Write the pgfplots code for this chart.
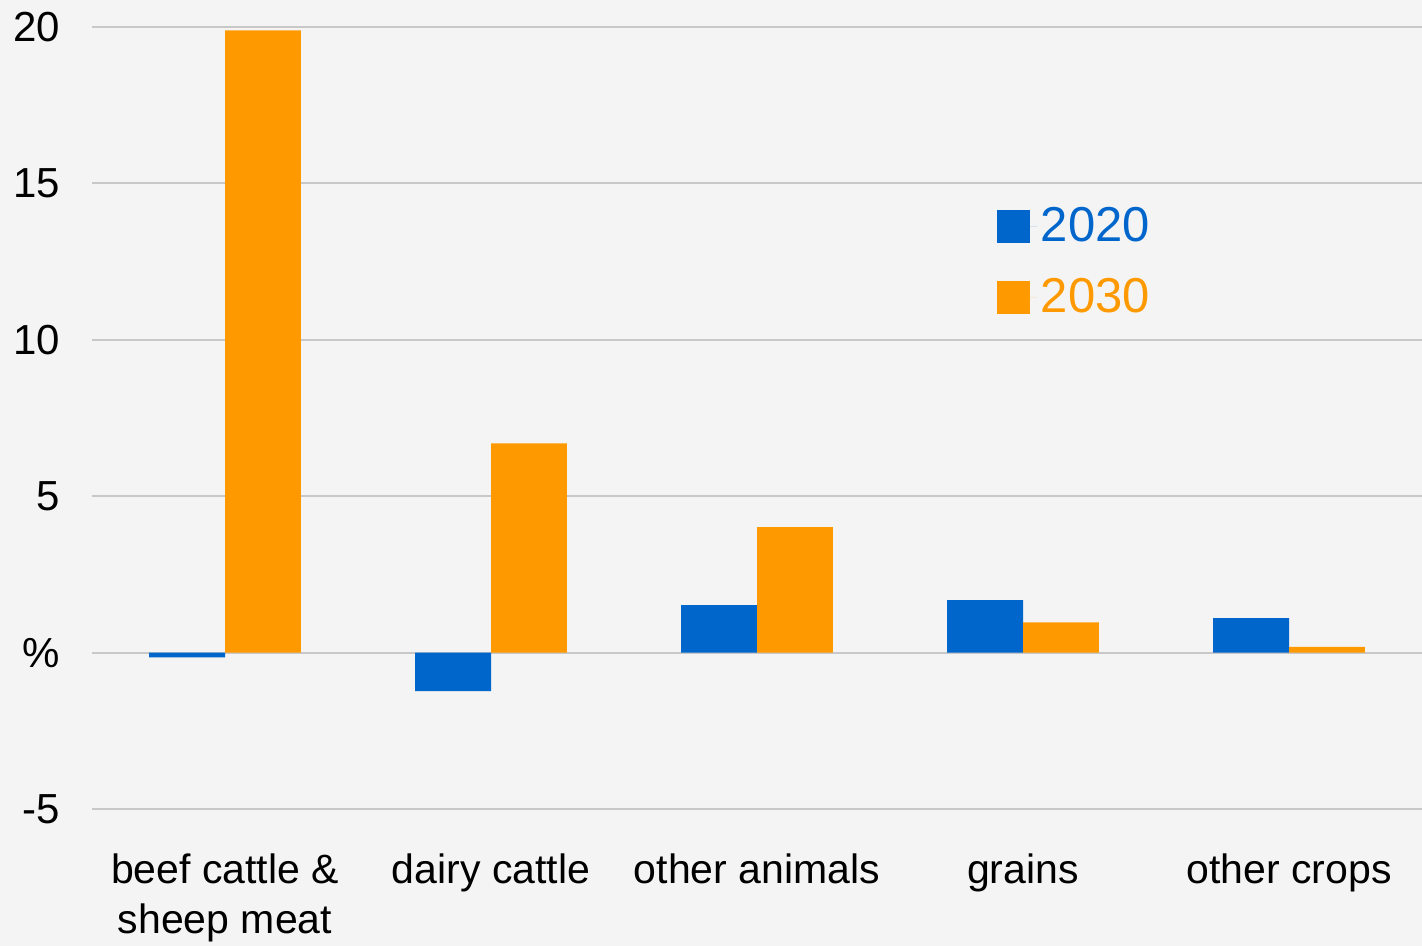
\documentclass[border=0pt]{standalone}
\usepackage{pgfplots}
\pgfplotsset{compat=1.18}
\usepackage{fontspec}
\setmainfont{Liberation Sans}
\definecolor{bg}{HTML}{F4F4F4}
\definecolor{gridgray}{HTML}{C8C8C8}
\definecolor{c2020}{HTML}{0066CC}
\definecolor{c2030}{HTML}{FF9900}

\begin{document}
\begin{tikzpicture}
\fill[bg] (0,0) rectangle (711pt,473pt);
\begin{axis}[
  at={(46pt,68.5pt)}, anchor=south west,
  width=665pt, height=391pt, scale only axis,
  ybar=0pt, bar width=0.285,
  xmin=-0.5, xmax=4.5, ymin=-5, ymax=20,
  xtick={0,1,2,3,4},
  xticklabels={beef cattle \&\\sheep meat, dairy cattle, other animals, grains, other crops},
  ytick={-5,0,5,10,15,20},
  yticklabels={-5,\%,5,10,15,20},
  axis line style={draw=none}, major tick length=0pt,
  ymajorgrids, major grid style={gridgray, line width=1pt},
  yticklabel style={font=\fontsize{21}{25}\selectfont, anchor=east, xshift=-12.5pt},
  xticklabel style={font=\fontsize{20.5}{25}\selectfont, align=center, anchor=north, yshift=-19pt},
  legend style={at={(0.6755,0.78)}, anchor=north west, draw=none, fill=none,
    font=\fontsize{24.5}{29}\selectfont, row sep=13pt},
  legend cell align=left,
]
\addplot[fill=c2020, draw=none,
  legend image code/.code={\fill[c2020] (0pt,-8.25pt) rectangle (16.5pt,8.25pt);
    \path (0pt,0pt) -- (20pt,0pt);}]
  coordinates {(0,-0.15) (1,-1.23) (2,1.52) (3,1.68) (4,1.1)};
\addlegendentry{\textcolor{c2020}{2020}}
\addplot[fill=c2030, draw=none,
  legend image code/.code={\fill[c2030] (0pt,-8.25pt) rectangle (16.5pt,8.25pt);
    \path (0pt,0pt) -- (20pt,0pt);}]
  coordinates {(0,19.89) (1,6.69) (2,4.01) (3,0.97) (4,0.18)};
\addlegendentry{\textcolor{c2030}{2030}}
\end{axis}
\pgfresetboundingbox
\path[use as bounding box] (0,0) rectangle (711pt,473pt);
\end{tikzpicture}
\end{document}
